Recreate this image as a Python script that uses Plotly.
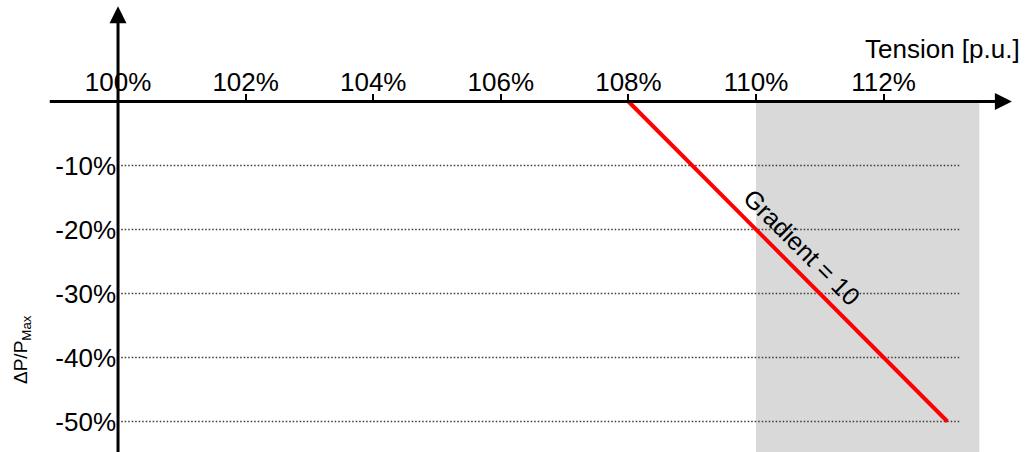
import plotly.graph_objects as go

# Voltage axis (per-unit, in %) and power reduction axis (in %)
x_ticks = [100, 102, 104, 106, 108, 110, 112]
x_tick_labels = ["100%", "102%", "104%", "106%", "108%", "110%", "112%"]
y_ticks = [-10, -20, -30, -40, -50]
y_tick_labels = ["-10%", "-20%", "-30%", "-40%", "-50%"]

# Power reduction characteristic
curve_x = [108, 113]
curve_y = [0, -50]

# Over-voltage band
band_x = [110, 113.5]

# Extent of dotted reference lines
grid_x = [100.05, 113.2]

X_RANGE = [98.15, 114.31]
Y_RANGE = [-54.77, 15.86]

# Axis arrow geometry (data units)
H_AXIS_START, H_AXIS_TIP = 98.93, 114.01
V_AXIS_TIP = 14.9

FONT = "Liberation Sans, Arial, sans-serif"

fig = go.Figure()

# Shaded band
fig.add_shape(type="rect", x0=band_x[0], x1=band_x[1], y0=Y_RANGE[0], y1=0,
              fillcolor="#d9d9d9", line_width=0, layer="below")

# Dotted reference lines
for yv in y_ticks:
    fig.add_trace(go.Scatter(x=grid_x, y=[yv, yv], mode="lines",
                             line=dict(color="#3a3a3a", width=1.5, dash="1.5px,2px"),
                             hoverinfo="skip", showlegend=False))

# Characteristic
fig.add_trace(go.Scatter(x=curve_x, y=curve_y, mode="lines",
                         line=dict(color="#ff0000", width=4),
                         hoverinfo="skip", showlegend=False))

# Axis lines
fig.add_shape(type="line", x0=H_AXIS_START, x1=H_AXIS_TIP - 0.15, y0=0, y1=0,
              line=dict(color="#000", width=3))
fig.add_shape(type="line", x0=100, x1=100, y0=Y_RANGE[0] - 2, y1=V_AXIS_TIP - 1.5,
              line=dict(color="#000", width=3))

# Arrow heads
fig.add_trace(go.Scatter(x=[H_AXIS_TIP], y=[0], mode="markers",
                         marker=dict(symbol="arrow-right", size=17, color="#000",
                                     line_width=0),
                         hoverinfo="skip", showlegend=False, cliponaxis=False))
fig.add_trace(go.Scatter(x=[100], y=[V_AXIS_TIP], mode="markers",
                         marker=dict(symbol="arrow-up", size=17, color="#000",
                                     line_width=0),
                         hoverinfo="skip", showlegend=False, cliponaxis=False))

# Labels
fig.add_annotation(x=114.17, y=8.2, xref="x", yref="y", text="Tension [p.u.]",
                   showarrow=False, xanchor="right", yanchor="middle",
                   font=dict(family=FONT, size=26, color="#000"))
fig.add_annotation(x=98.495, y=-38.83, xref="x", yref="y",
                   text="ΔP/P<sub>Max</sub>", textangle=-90,
                   showarrow=False, xanchor="center", yanchor="middle",
                   font=dict(family=FONT, size=19, color="#000"))
fig.add_annotation(x=110.72, y=-22.73, xref="x", yref="y", text="Gradient = 10",
                   textangle=45, showarrow=False,
                   font=dict(family=FONT, size=25, color="#000"))

fig.update_layout(
    width=1031, height=452,
    margin=dict(l=0, r=0, t=0, b=0),
    paper_bgcolor="white", plot_bgcolor="white",
    showlegend=False,
    font=dict(family=FONT, size=26, color="#000"),
    xaxis=dict(range=X_RANGE, domain=[0, 1], anchor="free",
               position=(0 - Y_RANGE[0]) / (Y_RANGE[1] - Y_RANGE[0]),
               side="top", tickvals=x_ticks, ticktext=x_tick_labels,
               ticks="outside", ticklen=7, tickwidth=1.5, tickcolor="#000",
               ticklabelstandoff=-7,
               showline=False, showgrid=False, zeroline=False,
               tickfont=dict(family=FONT, size=26, color="#000")),
    yaxis=dict(range=Y_RANGE, domain=[0, 1], anchor="free",
               position=(100 - X_RANGE[0]) / (X_RANGE[1] - X_RANGE[0]),
               side="left", tickvals=y_ticks, ticktext=y_tick_labels,
               ticks="", ticklabelstandoff=2,
               showline=False, showgrid=False, zeroline=False,
               tickfont=dict(family=FONT, size=26, color="#000")),
)

fig.write_html("out.html")
